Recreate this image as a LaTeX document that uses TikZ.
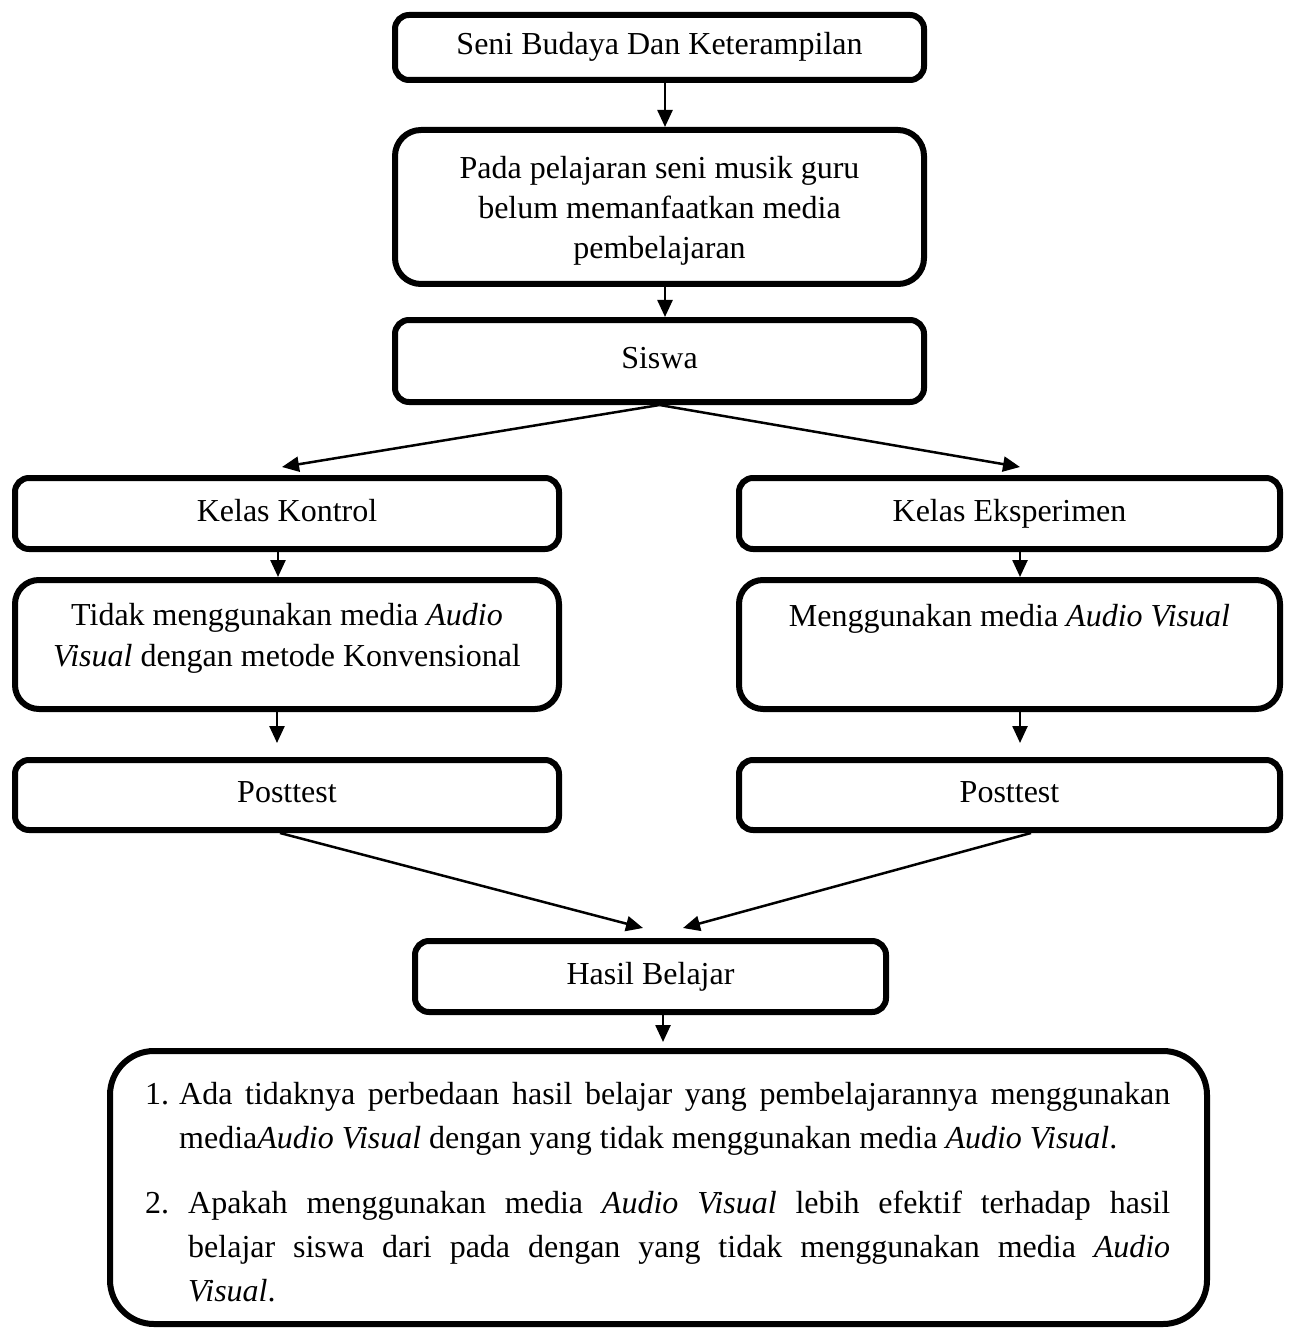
\documentclass[tikz,border=0pt]{standalone}
\usepackage{fontspec}
\setmainfont{Liberation Serif}
\usetikzlibrary{arrows.meta}

\tikzset{
  box/.style={draw, line width=6pt, rounded corners=14pt, inner sep=0pt, align=center,
    font=\fontsize{32}{40}\selectfont},
  oneline/.style={text height=22pt, text depth=7pt},
  boxtext/.style={inner sep=0pt, align=center, font=\fontsize{32}{41}\selectfont},
  flow/.style={-{Triangle[length=17pt,width=15pt]}, line width=2.5pt}
}

\begin{document}
\begin{tikzpicture}[x=1pt,y=-1pt]

\useasboundingbox (0,0) rectangle (1290,1329);

% main column
\node[box, oneline, minimum width=529pt, minimum height=65pt] (seni) at (659.5,47.5) {Seni Budaya Dan Keterampilan};
\node[box, rounded corners=26pt, minimum width=529pt, minimum height=154pt] (pada) at (659.5,207) {};
\node[boxtext, font=\fontsize{32}{40}\selectfont] (padatxt) at ([yshift=-4pt]pada.center)
    {Pada pelajaran seni musik guru\\belum memanfaatkan media\\pembelajaran};
\node[box, oneline, minimum width=529pt, minimum height=82pt] (siswa) at (659.5,361) {Siswa};

% left branch
\node[box, oneline, minimum width=544pt, minimum height=71pt] (kontrol) at (287,513.5) {Kelas Kontrol};
\node[box, rounded corners=24pt, minimum width=544pt, minimum height=129pt] (tanpa) at (287,644.5) {};
\node[boxtext] (tanpatxt) at ([yshift=6pt]tanpa.center)
    {Tidak menggunakan media \textit{Audio}\\\textit{Visual} dengan metode Konvensional};
\node[box, oneline, minimum width=544pt, minimum height=70pt] (postkontrol) at (287,795) {Posttest};

% right branch
\node[box, oneline, minimum width=541pt, minimum height=71pt] (eksperimen) at (1009.5,513.5) {Kelas Eksperimen};
\node[box, rounded corners=24pt, minimum width=541pt, minimum height=129pt] (dengan) at (1009.5,644.5) {};
\node[boxtext] (dengantxt) at ([yshift=26pt]dengan.center) {Menggunakan media \textit{Audio Visual}};
\node[box, oneline, minimum width=541pt, minimum height=70pt] (posteks) at (1009.5,795) {Posttest};

% result
\node[box, oneline, minimum width=471pt, minimum height=71pt] (hasil) at (650.5,976.5) {Hasil Belajar};
\node[box, rounded corners=44pt, minimum width=1097pt, minimum height=273pt] (rumusan) at (658.5,1187.5) {};
\node[inner sep=0pt, anchor=north west, text width=1025pt, align=justify,
    font=\fontsize{32}{44}\selectfont] (rumusantxt) at (145,1082) {%
  \noindent\hangindent=34pt\hangafter=1\makebox[34pt][l]{1.}Ada tidaknya perbedaan hasil belajar yang pembelajarannya menggunakan\linebreak
  media\textit{Audio Visual} dengan yang tidak menggunakan media \textit{Audio Visual}.\par
  \vspace{21pt}
  \noindent\hangindent=43pt\hangafter=1\makebox[43pt][l]{2.}Apakah menggunakan media \textit{Audio Visual} lebih efektif terhadap hasil\linebreak
  belajar siswa dari pada dengan yang tidak menggunakan media \textit{Audio}\linebreak
  \textit{Visual}.\par};

% arrows
\draw[flow] ([xshift=5.5pt]seni.south) -- ([xshift=5.5pt]pada.north);
\draw[flow] ([xshift=5.5pt]pada.south) -- ([xshift=5.5pt]siswa.north);
\draw[flow] (siswa.south) -- ([xshift=-5pt,yshift=8pt]kontrol.north);
\draw[flow] (siswa.south) -- ([xshift=10.5pt,yshift=8pt]eksperimen.north);
\draw[flow] ([xshift=-9pt]kontrol.south) -- ([xshift=-9pt]tanpa.north);
\draw[flow] ([xshift=10.5pt]eksperimen.south) -- ([xshift=10.5pt]dengan.north);
\draw[flow] ([xshift=-10pt]tanpa.south) -- ([xshift=-10pt,yshift=14pt]postkontrol.north);
\draw[flow] ([xshift=10.5pt]dengan.south) -- ([xshift=10.5pt,yshift=14pt]posteks.north);
\draw[flow] ([xshift=-7pt]postkontrol.south) -- ([xshift=-7.5pt,yshift=10pt]hasil.north);
\draw[flow] ([xshift=21.5pt]posteks.south) -- ([xshift=32.5pt,yshift=10pt]hasil.north);
\draw[flow] ([xshift=12.5pt]hasil.south) -- ([xshift=4.5pt,yshift=6pt]rumusan.north);

\end{tikzpicture}
\end{document}
